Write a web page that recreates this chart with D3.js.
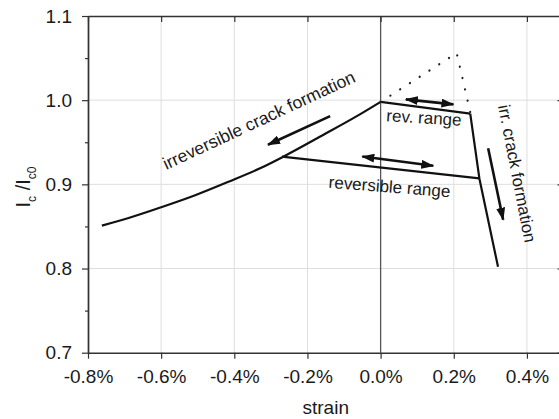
<html><head>
<meta charset="utf-8">
<title>strain vs Ic/Ic0</title>
<script src="https://cdn.jsdelivr.net/npm/d3@7"></script>
<style>
  body { margin: 0; background: #fff; }
  text { font-family: "Liberation Sans", Arial, sans-serif; fill: #1a1a1a; }
</style>
</head>
<body>
<div id="chart"></div>
<script>

// strain in %, current ratio Ic/Ic0
var irrStrain = [-0.762, -0.689, -0.598, -0.507, -0.416, -0.325, -0.270, -0.156, -0.065, 0.0];
var irrValue  = [0.851, 0.860, 0.873, 0.887, 0.903, 0.920, 0.932, 0.959, 0.981, 0.998];

var revStrain = [0.0, 0.245];
var revValue  = [0.998, 0.984];

var steepStrain = [0.245, 0.270, 0.321];
var steepValue  = [0.984, 0.907, 0.802];

var backStrain = [-0.270, 0.270];
var backValue  = [0.933, 0.907];

var dotStrain = [0.0, 0.208, 0.245];
var dotValue  = [0.998, 1.056, 0.986];

var xTicks = [-0.8, -0.6, -0.4, -0.2, 0.0, 0.2, 0.4];
var yTicks = [0.7, 0.8, 0.9, 1.0, 1.1];
var yMinor = [0.75, 0.85, 0.95, 1.05];

// arrows: [x1, y1, x2, y2] in data units, head at the second point
var singleArrows = [
  [-0.138, 0.981, -0.308, 0.947],
  [0.294, 0.943, 0.335, 0.858]
];
var doubleArrows = [
  [0.069, 1.001, 0.199, 0.995],
  [-0.050, 0.933, 0.144, 0.922]
];

// annotation text anchors (data units)
var noteText  = ["irreversible crack formation", "rev. range", "reversible range", "irr. crack formation"];
var noteX     = [-0.586, 0.015, -0.143, 0.321];
var noteY     = [0.917, 0.975, 0.896, 0.993];
var noteAngle = [-25, 3.5, 4.5, 79];

var margin = {top: 16, left: 88};
var width = 475.5;
var height = 336.7;

var svg = d3.select("#chart")
  .append("svg")
    .attr("width", 559)
    .attr("height", 419);

var g = svg.append("g")
    .attr("transform", "translate(" + margin.left + "," + margin.top + ")");

var xScale = d3.scaleLinear().domain([-0.8, 0.5]).range([0, width]);
var yScale = d3.scaleLinear().domain([0.7, 1.1]).range([height, 0]);

//grid
g.selectAll(".vgrid")
  .data(xTicks.filter(function(d) { return d != -0.8 && d != 0; }))
  .enter().append("line")
    .attr("x1", function(d) { return xScale(d); })
    .attr("x2", function(d) { return xScale(d); })
    .attr("y1", 0).attr("y2", height)
    .attr("stroke", "#dedede").attr("stroke-width", 1);

g.selectAll(".hgrid")
  .data([0.8, 0.9, 1.0])
  .enter().append("line")
    .attr("y1", function(d) { return yScale(d); })
    .attr("y2", function(d) { return yScale(d); })
    .attr("x1", 0).attr("x2", width)
    .attr("stroke", "#dedede").attr("stroke-width", 1);

// zero line
g.append("line")
  .attr("x1", xScale(0)).attr("x2", xScale(0))
  .attr("y1", 0).attr("y2", height)
  .attr("stroke", "#555").attr("stroke-width", 1.3);

//axes
g.append("g")
  .attr("transform", "translate(0," + height + ")")
  .call(d3.axisBottom(xScale).tickValues(xTicks)
    .tickFormat(function(d) { return d.toFixed(1) + "%"; })
    .tickSize(6).tickSizeOuter(0).tickPadding(11));

g.append("g")
  .call(d3.axisTop(xScale).tickValues(xTicks).tickFormat("")
    .tickSize(-6).tickSizeOuter(0));

g.append("g")
  .call(d3.axisLeft(yScale).tickValues(yTicks)
    .tickFormat(d3.format(".1f"))
    .tickSize(6).tickSizeOuter(0).tickPadding(10));

g.append("g")
  .call(d3.axisLeft(yScale).tickValues(yMinor).tickFormat("")
    .tickSize(3).tickSizeOuter(0));

g.append("g")
  .attr("transform", "translate(" + width + ",0)")
  .call(d3.axisRight(yScale).tickValues(yTicks).tickFormat("")
    .tickSize(-6).tickSizeOuter(0));

g.selectAll(".domain").attr("stroke", "#333").attr("stroke-width", 1.4);
g.selectAll(".tick line").attr("stroke", "#333").attr("stroke-width", 1.2);
g.selectAll(".tick text")
  .style("font-size", "19px")
  .style("font-family", '"Liberation Sans", Arial, sans-serif')
  .attr("fill", "#1a1a1a");

//lines
var line = d3.line()
  .x(function(d) { return xScale(d[0]); })
  .y(function(d) { return yScale(d[1]); });

function pairs(xs, ys) { return xs.map(function(v, i) { return [v, ys[i]]; }); }

g.append("path")
  .datum(pairs(irrStrain, irrValue))
  .attr("fill", "none").attr("stroke", "#111").attr("stroke-width", 2.2)
  .attr("d", line.curve(d3.curveMonotoneX));

line.curve(d3.curveLinear);

[[revStrain, revValue], [steepStrain, steepValue], [backStrain, backValue]].forEach(function(s) {
  g.append("path")
    .datum(pairs(s[0], s[1]))
    .attr("fill", "none").attr("stroke", "#111").attr("stroke-width", 2.2)
    .attr("stroke-linejoin", "round")
    .attr("d", line);
});

g.append("path")
  .datum(pairs(dotStrain, dotValue))
  .attr("fill", "none").attr("stroke", "#222").attr("stroke-width", 2.2)
  .attr("stroke-linecap", "round")
  .attr("stroke-dasharray", "0.1 11.5")
  .attr("d", line);

//arrow heads
var defs = svg.append("defs");
defs.append("marker")
  .attr("id", "head")
  .attr("viewBox", "0 0 13 9")
  .attr("refX", 12).attr("refY", 4.5)
  .attr("markerUnits", "userSpaceOnUse")
  .attr("markerWidth", 13).attr("markerHeight", 9)
  .attr("orient", "auto-start-reverse")
  .append("path")
    .attr("d", "M0,0 L13,4.5 L0,9 Z")
    .attr("fill", "#111");

singleArrows.forEach(function(a) {
  g.append("line")
    .attr("x1", xScale(a[0])).attr("y1", yScale(a[1]))
    .attr("x2", xScale(a[2])).attr("y2", yScale(a[3]))
    .attr("stroke", "#111").attr("stroke-width", 2.6)
    .attr("marker-end", "url(#head)");
});

doubleArrows.forEach(function(a) {
  g.append("line")
    .attr("x1", xScale(a[0])).attr("y1", yScale(a[1]))
    .attr("x2", xScale(a[2])).attr("y2", yScale(a[3]))
    .attr("stroke", "#111").attr("stroke-width", 2.6)
    .attr("marker-start", "url(#head)")
    .attr("marker-end", "url(#head)");
});

//notes
noteText.forEach(function(t, i) {
  var px = xScale(noteX[i]), py = yScale(noteY[i]);
  g.append("text")
    .attr("transform", "translate(" + px + "," + py + ") rotate(" + noteAngle[i] + ")")
    .style("font-size", i == 0 ? "17.5px" : "17px")
    .text(t);
});

//axis titles
svg.append("text")
  .attr("x", margin.left + width / 2)
  .attr("y", 414)
  .attr("text-anchor", "middle")
  .style("font-size", "19px")
  .text("strain");

var yt = svg.append("text")
  .attr("transform", "translate(30,187) rotate(-90)")
  .attr("text-anchor", "middle")
  .style("font-size", "20px");
yt.append("tspan").text("I");
yt.append("tspan").attr("dy", 6).style("font-size", "12px").text("c");
yt.append("tspan").attr("dy", -6).text(" /I");
yt.append("tspan").attr("dy", 6).style("font-size", "12px").text("c0");

</script>
</body></html>
